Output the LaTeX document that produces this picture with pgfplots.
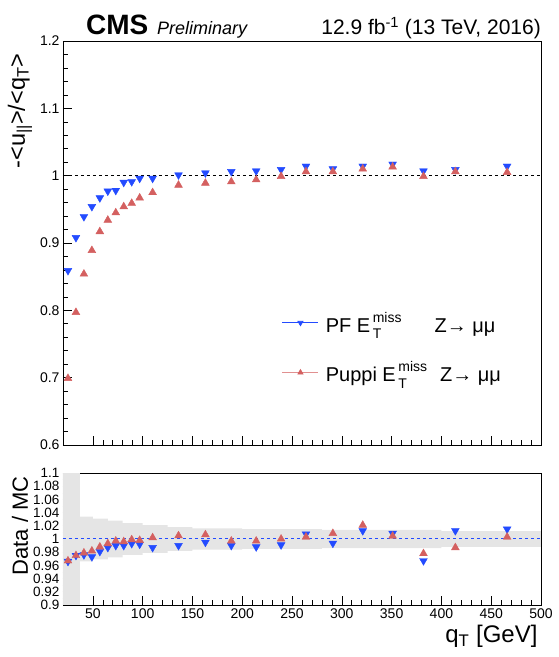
\documentclass[border=0pt]{standalone}
\usepackage{pgfplots}
\pgfplotsset{compat=1.18}
\usepackage{amsmath}
\usepackage{fontspec}
\setmainfont{Liberation Sans}
\definecolor{pfblue}{RGB}{35,75,255}
\definecolor{pupred}{RGB}{212,96,96}
\pgfplotstableread{
x pf puppi
25 0.859 0.699
33 0.908 0.797
41 0.939 0.854
49 0.954 0.889
57 0.967 0.917
65 0.977 0.934
73 0.978 0.945
81 0.990 0.954
89 0.991 0.959
97 0.996 0.967
110 0.996 0.975
136 1.001 0.986
163 1.004 0.989
189 1.006 0.991
214 1.007 0.994
239 1.009 0.999
264 1.014 1.006
291 1.010 1.006
321 1.014 1.010
351 1.017 1.013
382 1.007 0.999
414 1.009 1.006
466 1.014 1.005
}\resp
\pgfplotstableread{
x pf puppi
25 0.966 0.967
33 0.975 0.975
41 0.976 0.979
49 0.973 0.982
57 0.981 0.988
65 0.987 0.993
73 0.990 0.997
81 0.990 0.996
89 0.993 0.999
97 0.992 0.998
110 0.987 1.002
136 0.990 1.005
163 0.995 1.0065
189 0.990 0.997
214 0.988 0.997
239 0.991 1.000
264 1.0075 1.003
291 0.9935 1.0085
321 1.0125 1.021
351 1.0085 1.0045
382 0.967 0.978
414 1.0125 0.987
466 1.015 1.003
}\ratio
\pgfplotsset{
  cmsaxis/.style={
    scale only axis, width=478pt,
    xmin=20, xmax=500,
    xtick={50,100,150,200,250,300,350,400,450,500},
    minor x tick num=4,
    tick align=inside,
    xtick pos=bottom, ytick pos=left,
    major tick length=9pt, minor tick length=5pt,
    axis line style={line width=0.8pt},
    every tick/.style={black, line width=0.6pt},
    tick label style={font=\fontsize{14}{14}\selectfont},
    /pgf/number format/assume math mode=true,
  },
  /pgfplots/legend image code/.code={\draw[mark repeat=2,mark phase=2,#1] plot coordinates {(0pt,0pt) (18pt,0pt) (36pt,0pt)};},
}
\newcommand{\met}{E\kern2.5pt\rlap{\raisebox{-0.35ex}{\textsubscript{T}}}\raisebox{0.25ex}{\textsuperscript{miss}}}
\begin{document}
\begin{tikzpicture}
\path[use as bounding box] (0,0) rectangle (558pt,657pt);
\begin{axis}[cmsaxis,
  at={(63pt,212pt)}, anchor=south west, height=404pt,
  ymin=0.6, ymax=1.2,
  xticklabels={},
  ytick={0.6,0.7,0.8,0.9,1,1.1,1.2},
  yticklabels={0.6,0.7,0.8,0.9,1,1.1,1.2},
  minor y tick num=4,
  ylabel={-<u\textsubscript{||}>/<q\textsubscript{T}>},
  ylabel style={at={(axis description cs:-0.09,1)}, anchor=east, xshift=-9pt, font=\fontsize{23.5}{23.5}\selectfont},
  legend style={at={(rel axis cs:0.458,0.335)}, anchor=north west, draw=none, fill=none, inner sep=0pt,
    font=\fontsize{20}{20}\selectfont, row sep=24pt},
  legend cell align=left,
]
\addplot[black, dashed, line width=0.8pt, forget plot] coordinates {(20,1) (500,1)};
\addlegendimage{pfblue, line width=0.7pt, mark=triangle*, mark size=3pt, mark options={rotate=180}}
\addlegendentry{\hspace{5pt}PF \met\hspace{27pt} Z→ μμ}
\addlegendimage{pupred!70, line width=0.7pt, mark=triangle*, mark size=3pt, mark options={pupred}}
\addlegendentry{\hspace{5pt}Puppi \met\hspace{7pt} Z→ μμ}
\addplot[only marks, mark=triangle*, mark size=4.5pt, color=pfblue, mark options={rotate=180}, forget plot] table[x=x, y=pf] {\resp};
\addplot[only marks, mark=triangle*, mark size=4.5pt, color=pupred, forget plot] table[x=x, y=puppi] {\resp};
\end{axis}
\begin{axis}[cmsaxis,
  at={(63pt,52pt)}, anchor=south west, height=132pt,
  ymin=0.9, ymax=1.1,
  xticklabels={50,100,150,200,250,300,350,400,450,500},
  ytick={0.9,0.92,0.94,0.96,0.98,1,1.02,1.04,1.06,1.08,1.1},
  yticklabels={0.9,0.92,0.94,0.96,0.98,1,1.02,1.04,1.06,1.08,1.1},
  minor y tick num=1,
  yticklabel style={font=\fontsize{13.5}{13.5}\selectfont},
  xlabel={q\textsubscript{T} [GeV]},
  xlabel style={at={(rel axis cs:1,0)}, anchor=north east, yshift=-17pt, font=\fontsize{24}{24}\selectfont},
  ylabel={Data / MC},
  ylabel style={at={(axis description cs:-0.09,1)}, anchor=east, font=\fontsize{22}{22}\selectfont},
]
\addplot[fill=gray!20, draw=none] coordinates {
(20,1.2)(37,1.2)(37,1.034)(50,1.034)(50,1.031)(65,1.031)(65,1.028)(80,1.028)(80,1.024)(100,1.024)(100,1.021)(125,1.021)(125,1.018)(150,1.018)(150,1.016)(200,1.016)(200,1.015)(280,1.015)(280,1.014)(400,1.014)(400,1.012)(500,1.012)
(500,0.988)(400,0.988)(400,0.986)(280,0.986)(280,0.985)(200,0.985)(200,0.984)(150,0.984)(150,0.982)(125,0.982)(125,0.979)(100,0.979)(100,0.976)(80,0.976)(80,0.972)(65,0.972)(65,0.969)(50,0.969)(50,0.966)(37,0.966)(37,0.8)(20,0.8)} -- cycle;
\addplot[pfblue, dashed, line width=1pt] coordinates {(20,1) (500,1)};
\addplot[only marks, mark=triangle*, mark size=4.5pt, color=pfblue, mark options={rotate=180}] table[x=x, y=pf] {\ratio};
\addplot[only marks, mark=triangle*, mark size=4.5pt, color=pupred] table[x=x, y=puppi] {\ratio};
\end{axis}
\node[anchor=base west, inner sep=0pt, font=\fontsize{28}{28}\selectfont\bfseries] at (86pt,622pt) {CMS};
\node[anchor=base west, inner sep=0pt, font=\fontsize{18}{18}\selectfont\itshape] at (157pt,622pt) {Preliminary};
\node[anchor=base east, inner sep=0pt, font=\fontsize{21}{21}\selectfont] at (541pt,622pt) {12.9 fb\textsuperscript{-1} (13 TeV, 2016)};
\end{tikzpicture}
\end{document}
